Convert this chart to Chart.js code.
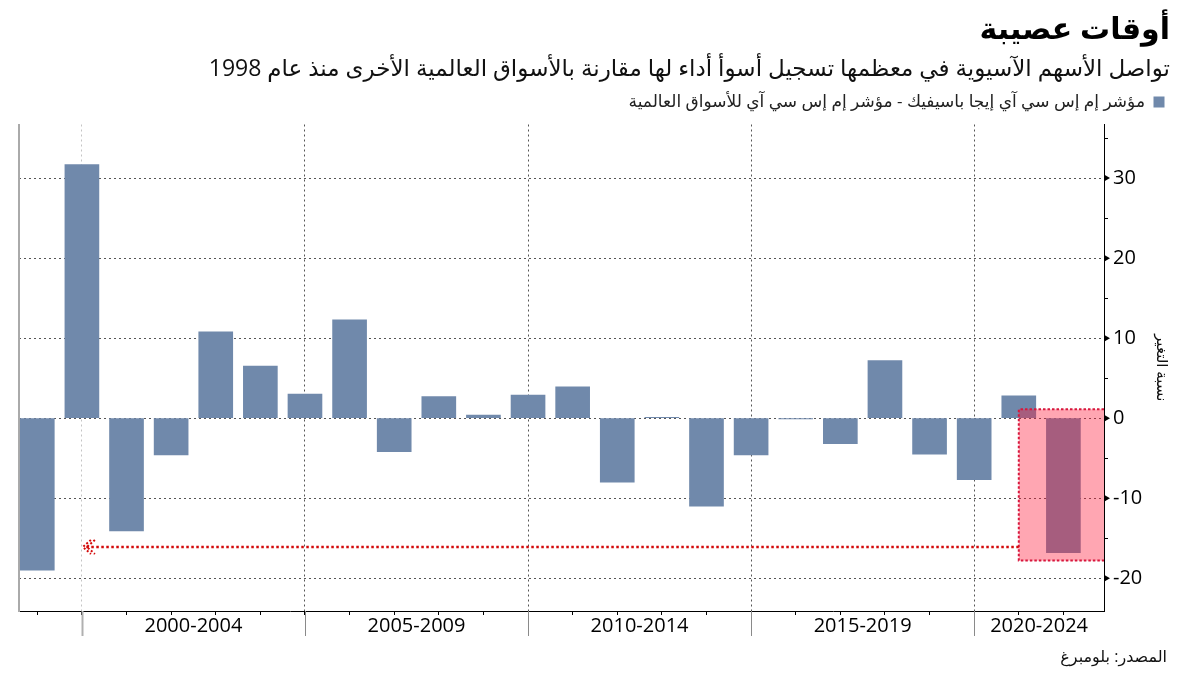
<!DOCTYPE html>
<html lang="ar">
<head>
<meta charset="utf-8">
<title>أوقات عصيبة</title>
<script src="https://cdn.jsdelivr.net/npm/chart.js@4.4.1/dist/chart.umd.min.js"></script>
<style>
  html, body { margin: 0; padding: 0; background: #fff; }
  canvas { display: block; }
</style>
</head>
<body>
<canvas id="grafico" width="1200" height="675"></canvas>
<script>
// annual relative performance, MSCI AC Asia Pacific minus MSCI World (percentage points)
const years = [1998, 1999, 2000, 2001, 2002, 2003, 2004, 2005, 2006, 2007, 2008, 2009,
               2010, 2011, 2012, 2013, 2014, 2015, 2016, 2017, 2018, 2019, 2020, 2021];
const spread = [-19.0, 31.7, -14.1, -4.6, 10.8, 6.5, 3.0, 12.3, -4.2, 2.7, 0.4, 2.9,
                3.9, -8.0, 0.1, -11.0, -4.6, -0.1, -3.2, 7.2, -4.5, -7.7, 2.8, -16.8];
const periodStarts = [2000, 2005, 2010, 2015, 2020];
const periodLabels = ['2000-2004', '2005-2009', '2010-2014', '2015-2019', '2020-2024'];
const yTicks = [-20, -15, -10, -5, 0, 5, 10, 15, 20, 25, 30, 35];

const titleText = 'أوقات عصيبة';
const subtitleText = 'تواصل الأسهم الآسيوية في معظمها تسجيل أسوأ أداء لها مقارنة بالأسواق العالمية الأخرى منذ عام 1998';
const seriesLabel = 'مؤشر إم إس سي آي إيجا باسيفيك - مؤشر إم إس سي آي للأسواق العالمية';
const yTitle = 'نسبة التغير';
const sourceText = 'المصدر: بلومبرغ';

// highlighted zone and arrow (data units)
const highlightFrom = 2021;
const highlightTop = 1.1;
const highlightBottom = -17.8;
const arrowLevel = -16.1;
const arrowTo = 2000;

const xMin = 1998.59, xMax = 2022.91;
const yMin = -24.1, yMax = 36.7;

const fontFamily = '"Open Sans", "DejaVu Sans", sans-serif';
Chart.defaults.font.family = fontFamily;
Chart.defaults.color = '#000';

// bars sit at the end of their year on the time axis
const points = years.map((y, i) => ({ x: y + 1, y: spread[i] }));

// x ticks: one per year end, plus one in the middle of each period for its label
const xTicks = [];
years.forEach(y => xTicks.push({ value: y + 1, label: '' }));
periodStarts.forEach((p, i) => {
    const next = i < periodStarts.length - 1 ? periodStarts[i + 1] : xMax;
    xTicks.push({ value: (p + next) / 2, label: periodLabels[i] });
});
xTicks.sort((a, b) => a.value - b.value);

function isYearEnd(v) {
    return years.some(y => y + 1 === v);
}

const extras = {
    id: 'extras',
    afterDatasetsDraw(chart) {
        const ctx = chart.ctx;
        const x = chart.scales.x, y = chart.scales.y;
        const area = chart.chartArea;
        const bx = x.getPixelForValue(highlightFrom);
        const by1 = y.getPixelForValue(highlightTop);
        const by2 = y.getPixelForValue(highlightBottom);

        ctx.save();
        ctx.fillStyle = 'rgba(255, 20, 52, 0.38)';
        ctx.fillRect(bx, by1, area.right - bx, by2 - by1);
        ctx.strokeStyle = '#d8173d';
        ctx.lineWidth = 2;
        ctx.setLineDash([2.5, 2]);
        ctx.beginPath();
        ctx.moveTo(area.right, by1);
        ctx.lineTo(bx, by1);
        ctx.lineTo(bx, by2);
        ctx.lineTo(area.right, by2);
        ctx.stroke();

        // dotted arrow back to the 1998 level
        const ay = y.getPixelForValue(arrowLevel);
        const ax = x.getPixelForValue(arrowTo);
        ctx.strokeStyle = '#d40a0a';
        ctx.lineWidth = 2.5;
        ctx.setLineDash([2.5, 2.5]);
        ctx.beginPath();
        ctx.moveTo(bx, ay);
        ctx.lineTo(ax + 2, ay);
        ctx.stroke();
        ctx.lineWidth = 2;
        ctx.setLineDash([2, 2]);
        for (let k = 0; k < 2; k++) {
            const tip = ax + 1 + k * 4;
            ctx.beginPath();
            ctx.moveTo(tip + 8, ay - 7);
            ctx.lineTo(tip, ay);
            ctx.lineTo(tip + 8, ay + 7);
            ctx.stroke();
        }
        ctx.restore();
    },
    afterDraw(chart) {
        const ctx = chart.ctx;
        const x = chart.scales.x, y = chart.scales.y;
        const area = chart.chartArea;
        ctx.save();

        // long ticks marking each 5-year period
        periodStarts.forEach((p, i) => {
            const px = Math.round(x.getPixelForValue(p)) + 0.5;
            ctx.strokeStyle = i === 0 ? '#b0b0b0' : '#8a8a8a';
            ctx.lineWidth = i === 0 ? 2 : 1;
            ctx.beginPath();
            ctx.moveTo(px, area.bottom);
            ctx.lineTo(px, area.bottom + 25);
            ctx.stroke();
        });

        // small pointers on the value axis
        ctx.fillStyle = '#000';
        yTicks.forEach(v => {
            if (v % 10 !== 0) return;
            const py = y.getPixelForValue(v);
            ctx.beginPath();
            ctx.moveTo(area.right, py - 3.5);
            ctx.lineTo(area.right + 6, py);
            ctx.lineTo(area.right, py + 3.5);
            ctx.closePath();
            ctx.fill();
        });

        ctx.font = '16px ' + fontFamily;
        ctx.textAlign = 'right';
        ctx.textBaseline = 'middle';
        ctx.fillStyle = '#111';
        ctx.fillText(sourceText, chart.width - 33, 657);
        ctx.restore();
    }
};

document.addEventListener('DOMContentLoaded', () => {
    const ctx = document.getElementById('grafico').getContext('2d');
    new Chart(ctx, {
        type: 'bar',
        data: {
            datasets: [{
                label: seriesLabel,
                data: points,
                backgroundColor: '#7089ab',
                borderWidth: 0,
                barThickness: 34,
                yAxisID: 'y'
            }]
        },
        options: {
            responsive: false,
            animation: false,
            events: [],
            layout: { padding: { left: 0, right: 30, top: 0, bottom: 0 } },
            plugins: {
                title: {
                    display: true,
                    text: titleText,
                    align: 'end',
                    color: '#000',
                    font: { size: 30, weight: 'bold' },
                    padding: { top: 12, bottom: 0 }
                },
                subtitle: {
                    display: true,
                    text: subtitleText,
                    align: 'end',
                    color: '#111',
                    font: { size: 23 },
                    padding: { top: 8, bottom: 4.4 }
                },
                legend: {
                    display: true,
                    position: 'top',
                    align: 'start',
                    rtl: true,
                    labels: {
                        boxWidth: 11,
                        boxHeight: 11,
                        padding: 5.5,
                        color: '#222',
                        font: { size: 17 }
                    }
                },
                tooltip: { enabled: false }
            },
            scales: {
                x: {
                    type: 'linear',
                    min: xMin,
                    max: xMax,
                    offset: false,
                    afterBuildTicks: (scale) => {
                        scale.ticks = xTicks.map(t => ({ value: t.value }));
                    },
                    afterFit: (scale) => { scale.height = 64; },
                    ticks: {
                        autoSkip: false,
                        maxRotation: 0,
                        minRotation: 0,
                        padding: -1,
                        font: { size: 20 },
                        color: '#000',
                        callback: (value, index) => xTicks[index] ? xTicks[index].label : ''
                    },
                    grid: {
                        offset: false,
                        tickLength: 4,
                        color: (c) => {
                            if (!c.tick) return 'rgba(0,0,0,0)';
                            if (c.tick.value === periodStarts[0]) return '#c4c4c4';
                            return periodStarts.includes(c.tick.value) ? '#555' : 'rgba(0,0,0,0)';
                        },
                        tickColor: (c) => c.tick && isYearEnd(c.tick.value) ? '#000' : 'rgba(0,0,0,0)'
                    },
                    border: { color: '#000', width: 1, dash: [2, 3] }
                },
                // empty band between the legend and the plot
                xt: {
                    type: 'linear',
                    position: 'top',
                    min: xMin,
                    max: xMax,
                    afterFit: (scale) => { scale.height = 4; },
                    ticks: { display: false },
                    grid: { drawOnChartArea: false, drawTicks: false },
                    border: { display: false }
                },
                y: {
                    type: 'linear',
                    position: 'right',
                    min: yMin,
                    max: yMax,
                    afterBuildTicks: (scale) => {
                        scale.ticks = yTicks.map(v => ({ value: v }));
                    },
                    afterFit: (scale) => { scale.width = 66; },
                    ticks: {
                        padding: 5,
                        font: { size: 20 },
                        color: '#000',
                        callback: (value) => value % 10 === 0 ? value : ''
                    },
                    grid: {
                        tickLength: 4,
                        tickColor: '#000',
                        color: (c) => c.tick && c.tick.value % 10 === 0 ? '#555' : 'rgba(0,0,0,0)'
                    },
                    border: { color: '#000', width: 1, dash: [2, 3] },
                    title: {
                        display: true,
                        text: yTitle,
                        color: '#111',
                        font: { size: 15 },
                        padding: { top: 0, bottom: 0 }
                    }
                },
                yl: {
                    type: 'linear',
                    position: 'left',
                    min: yMin,
                    max: yMax,
                    afterFit: (scale) => { scale.width = 19; },
                    ticks: { display: false },
                    grid: { drawOnChartArea: false, drawTicks: false },
                    border: { color: '#aaaaaa', width: 2 }
                }
            }
        },
        plugins: [extras]
    });
});
</script>
</body>
</html>
